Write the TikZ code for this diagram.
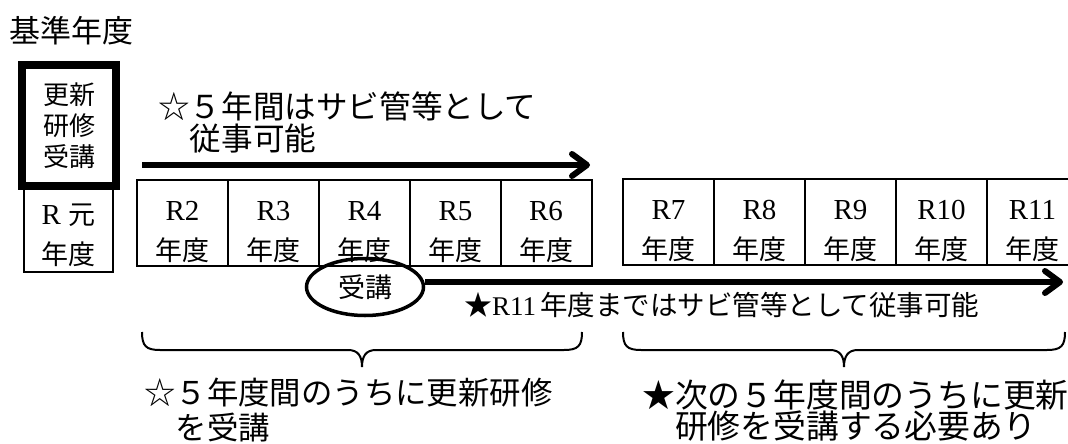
\documentclass[tikz,border=0pt]{standalone}
\usepackage{fontspec}
\setmainfont{Liberation Serif}
\newfontfamily\cjk{Noto Sans CJK JP}
\usetikzlibrary{arrows.meta,shapes.geometric}
\begin{document}
\begin{tikzpicture}[x=1pt,y=-1pt,
  cell/.style={draw, line width=2pt, minimum width=91pt, minimum height=86pt, inner sep=0pt},
  celltext/.style={align=center, inner sep=0pt, font=\fontsize{29}{40}\selectfont},
  bigtext/.style={inner sep=0pt, align=left, anchor=west},
  thickarrow/.style={line width=6pt, -{Straight Barb[length=15pt,width=22pt,round]}},
  bracepath/.style={line width=2pt}
]
\useasboundingbox (0,0) rectangle (1068,444);
\fill[white] (0,0) rectangle (1068,444);
\clip (0,0) rectangle (1068,444);

% title
\node[bigtext, font=\cjk\fontsize{31}{32}\selectfont] (title) at (9,31) {基準年度};

% R-gan box and thick box
\node[draw, line width=2pt, minimum width=89pt, minimum height=84pt, inner sep=0pt] (r1) at (68.5,230) {};
\node[celltext] (r1t) at (68.5,235) {R {\cjk\fontsize{27}{40}\selectfont 元}\\{\cjk\fontsize{27}{40}\selectfont 年度}};
\node[draw, line width=8pt, minimum width=94pt, minimum height=121pt, inner sep=0pt,
      align=center, font=\cjk\fontsize{26}{31}\selectfont] (kb) at (69.25,125.5) {更新\\研修\\受講};

% first five years
\foreach \n/\x in {2/182.5,3/273.5,4/364.5,5/455.5,6/546} {
  \node[cell] (c\n) at (\x,223) {};
  \node[celltext] (t\n) at (\x,232) {R\n\\{\cjk\fontsize{27}{40}\selectfont 年度}};
}
% next five years
\foreach \n/\x in {7/668.5,8/759.5,9/850.5,10/941.5,11/1032.5} {
  \node[cell] (c\n) at (\x,222) {};
  \node[celltext] (t\n) at (\x,231) {R\n\\{\cjk\fontsize{27}{40}\selectfont 年度}};
}

% top text and arrow
\node[bigtext, font=\cjk\fontsize{31.6}{32}\selectfont] (toptext) at (158,122) {☆５年間はサビ管等として\\　従事可能};
\coordinate (a1s) at (142,165);
\coordinate (a1e) at (590,165);
\draw[thickarrow] (a1s) -- (a1e);

% ellipse and bottom arrow
\node[ellipse, draw, line width=3.5pt, minimum width=117pt, minimum height=57pt, inner sep=0pt,
      font=\cjk\fontsize{27}{30}\selectfont] (e) at (365,287) {受講};
\coordinate (a2e) at (1063,282);
\draw[thickarrow] (e.east |- a2e) -- (a2e);
\node[inner sep=0pt, anchor=west] (midtext) at (464,305)
  {{\cjk\fontsize{28}{30}\selectfont ★}{\fontsize{27}{30}\selectfont R11}\hspace{4pt}{\cjk\fontsize{27.5}{30}\selectfont 年度まではサビ管等として従事可能}};

% braces
\coordinate (b1l) at (142,332);
\coordinate (b1m) at (362,367);
\coordinate (b1r) at (582,332);
\draw[bracepath] (b1l) .. controls (142,346) and (146,350) .. (160,350) -- (348,350)
  .. controls (358,350) and (362,356) .. (b1m) .. controls (362,356) and (366,350) .. (376,350)
  -- (564,350) .. controls (578,350) and (582,346) .. (b1r);
\coordinate (b2l) at (623,332);
\coordinate (b2m) at (844,367);
\coordinate (b2r) at (1065,332);
\draw[bracepath] (b2l) .. controls (623,346) and (627,350) .. (641,350) -- (830,350)
  .. controls (840,350) and (844,356) .. (b2m) .. controls (844,356) and (848,350) .. (858,350)
  -- (1047,350) .. controls (1061,350) and (1065,346) .. (b2r);

% bottom texts
\node[bigtext, font=\cjk\fontsize{31.4}{35}\selectfont] (bl) at (144,410) {☆５年度間のうちに更新研修\\　を受講};
\node[bigtext, font=\cjk\fontsize{32.8}{31}\selectfont] (br) at (642,411) {★次の５年度間のうちに更新\\　研修を受講する必要あり};
\end{tikzpicture}
\end{document}
